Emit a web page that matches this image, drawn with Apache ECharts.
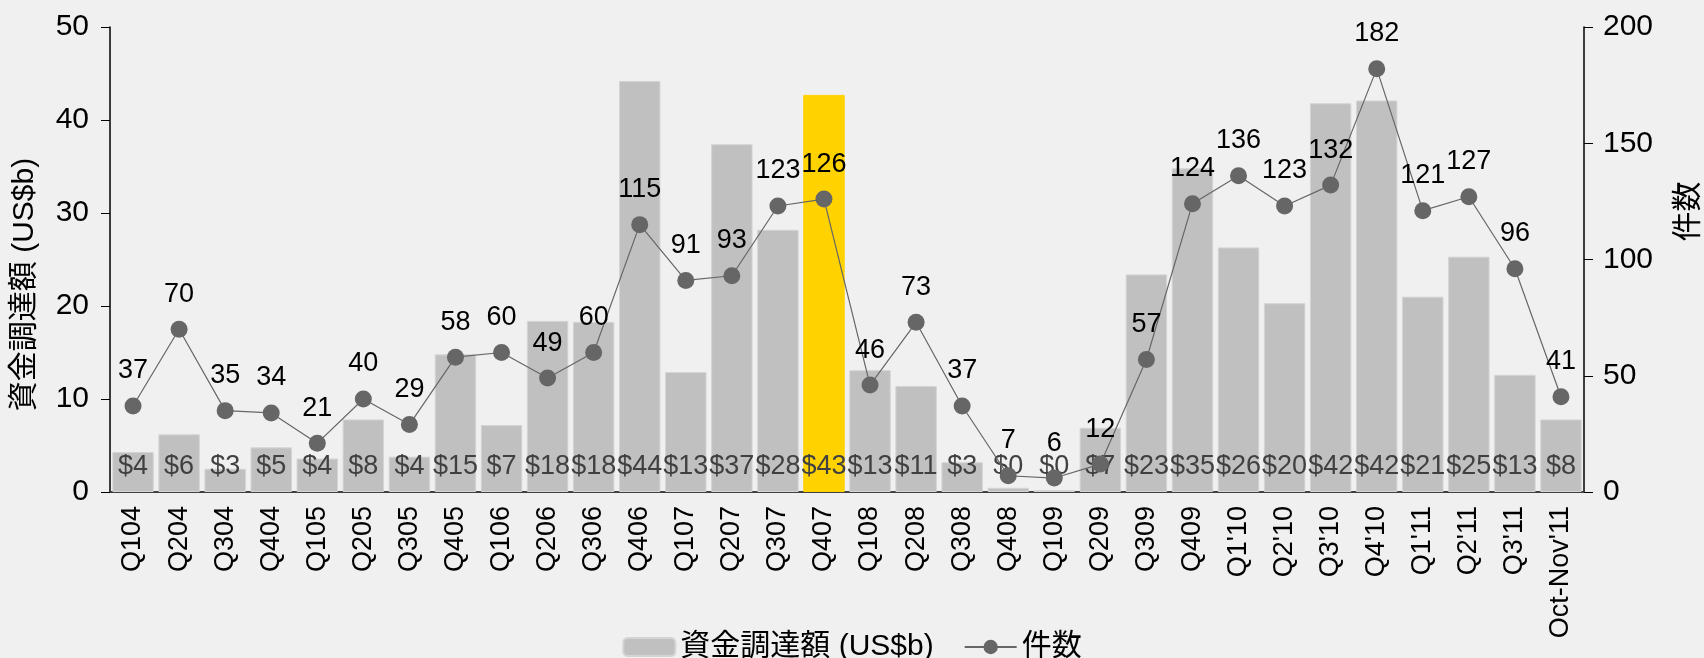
<!DOCTYPE html>
<html>
<head>
<meta charset="utf-8">
<title>資金調達額 / 件数</title>
<script src="https://cdn.jsdelivr.net/npm/echarts@6/dist/echarts.min.js"></script>
<style>
	html, body { margin: 0; padding: 0; background: #f0f0f0; }
	#main { width: 1704px; height: 658px; }
</style>
</head>
<body>
<div id="main"></div>
<script>
// 四半期ラベル
var quarters = ['Q104','Q204','Q304','Q404','Q105','Q205','Q305','Q405','Q106','Q206','Q306','Q406',
	'Q107','Q207','Q307','Q407','Q108','Q208','Q308','Q408','Q109','Q209','Q309','Q409',
	"Q1'10","Q2'10","Q3'10","Q4'10","Q1'11","Q2'11","Q3'11","Oct-Nov'11"];

// 資金調達額 (US$b)
var amounts = [4.3, 6.2, 2.5, 4.8, 3.6, 7.8, 3.8, 14.8, 7.2, 18.4, 18.3, 44.2,
	12.9, 37.4, 28.2, 42.7, 13.1, 11.4, 3.2, 0.45, 0.2, 6.9, 23.4, 34.8,
	26.3, 20.3, 41.8, 42.1, 21.0, 25.3, 12.6, 7.8];

// 件数
var counts = [37, 70, 35, 34, 21, 40, 29, 58, 60, 49, 60, 115,
	91, 93, 123, 126, 46, 73, 37, 7, 6, 12, 57, 124,
	136, 123, 132, 182, 121, 127, 96, 41];

// 左軸 / 右軸の目盛
var leftTicks = [0, 10, 20, 30, 40, 50];
var rightTicks = [0, 50, 100, 150, 200];

// 強調する四半期
var highlightQuarter = 'Q407';

$ready(function () {

	var FundChart = {

		font: "'Liberation Sans', Arial, 'Noto Sans CJK JP', sans-serif",

		init: function () {
			this.chart = echarts.init(document.getElementById('main'));
			this.render();
		},

		// 棒データ (強調色つき)
		barData: function () {
			return amounts.map(function (v, i) {
				if (quarters[i] === highlightQuarter) {
					return { value: v, itemStyle: { color: '#ffd200', borderColor: '#ffd200' } };
				}
				return v;
			});
		},

		render: function () {
			var font = this.font;
			var option = {
				backgroundColor: '#f0f0f0',
				textStyle: { fontFamily: font },
				grid: { left: 110, right: 120, top: 27, bottom: 166, outerBoundsMode: 'none' },
				legend: {
					top: 627,
					left: 'center',
					itemGap: 30,
					itemWidth: 52,
					itemHeight: 18,
					textStyle: { fontSize: 30, color: '#000', fontFamily: font },
					data: ['資金調達額 (US$b)', '件数']
				},
				xAxis: {
					type: 'category',
					data: quarters,
					axisLine: { lineStyle: { color: '#404040', width: 2 } },
					axisTick: { show: false },
					axisLabel: { rotate: 90, fontSize: 27, color: '#000', margin: 14, interval: 0 }
				},
				yAxis: [
					{
						type: 'value',
						min: leftTicks[0],
						max: leftTicks[leftTicks.length - 1],
						interval: 10,
						name: '資金調達額 (US$b)',
						nameLocation: 'middle',
						nameRotate: 90,
						nameGap: 70,
						nameTextStyle: { fontSize: 30, color: '#000', padding: [0, 50, 0, 0] },
						splitLine: { show: false },
						axisLine: { show: true, lineStyle: { color: '#000', width: 1.5 } },
						axisTick: { show: true, length: 9, lineStyle: { color: '#000' } },
						axisLabel: { fontSize: 30, color: '#000', margin: 21 }
					},
					{
						type: 'value',
						min: rightTicks[0],
						max: rightTicks[rightTicks.length - 1],
						interval: 50,
						name: '件数',
						nameLocation: 'middle',
						nameRotate: 90,
						nameGap: 90,
						nameTextStyle: { fontSize: 30, color: '#000', padding: [0, 0, 0, 96] },
						splitLine: { show: false },
						axisLine: { show: true, lineStyle: { color: '#000', width: 1.5 } },
						axisTick: { show: true, length: 9, lineStyle: { color: '#000' } },
						axisLabel: { fontSize: 30, color: '#000', margin: 19 }
					}
				],
				series: [
					{
						name: '資金調達額 (US$b)',
						type: 'bar',
						barCategoryGap: '10%',
						itemStyle: { color: '#c0c0c0', borderColor: '#d4d4d4', borderWidth: 1 },
						label: {
							show: true,
							position: 'insideBottom',
							distance: 12,
							fontSize: 27,
							color: '#404040',
							formatter: function (p) { return '$' + Math.round(p.value); }
						},
						data: this.barData()
					},
					{
						name: '件数',
						type: 'line',
						yAxisIndex: 1,
						symbol: 'circle',
						symbolSize: 17,
						itemStyle: { color: '#666666' },
						lineStyle: { color: '#666666', width: 1.2 },
						label: { show: true, position: 'top', distance: 13, fontSize: 27, color: '#000' },
						data: counts
					}
				]
			};
			this.chart.setOption(option);
		}
	};

	FundChart.init();
});

function $ready(fn) {
	if (document.readyState !== 'loading') { fn(); } else { document.addEventListener('DOMContentLoaded', fn); }
}
</script>
</body>
</html>
